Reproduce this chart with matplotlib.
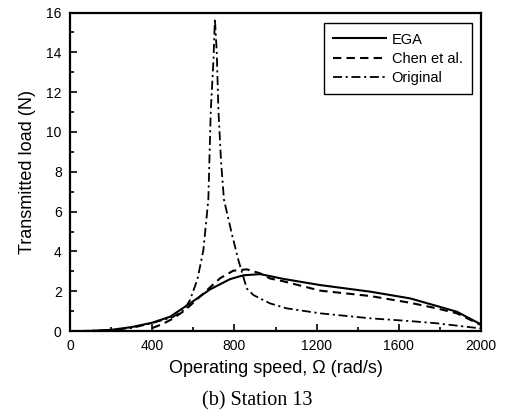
import matplotlib
matplotlib.use("Agg")
import matplotlib.pyplot as plt
from matplotlib.ticker import MultipleLocator

# Data
ega_speed = [50, 100, 200, 300, 400, 487, 584, 681, 779, 843, 925, 973, 1038, 1217, 1460, 1655, 1784, 1882, 2000]
ega_load = [0.0, 0.01, 0.06, 0.2, 0.42, 0.72, 1.39, 2.09, 2.61, 2.8, 2.86, 2.76, 2.62, 2.31, 1.98, 1.64, 1.26, 0.97, 0.33]

chen_speed = [400, 450, 500, 560, 649, 730, 794, 860, 925, 973, 1038, 1217, 1460, 1655, 1784, 1882, 2000]
chen_load = [0.15, 0.35, 0.62, 1.05, 1.89, 2.65, 3.03, 3.1, 2.9, 2.64, 2.5, 2.03, 1.76, 1.42, 1.14, 0.89, 0.3]

orig_speed = [50, 200, 300, 400, 500, 555, 584, 620, 649, 673, 685, 698, 705, 714, 722, 735, 749,
              787, 819, 843, 860, 892, 973, 1054, 1217, 1460, 1655, 1784, 2000]
orig_load = [0.0, 0.05, 0.15, 0.4, 0.7, 1.06, 1.56, 2.6, 4.07, 6.6, 11.1, 13.6, 15.7, 14.0, 11.1, 8.5, 6.6,
             4.9, 3.57, 2.73, 2.14, 1.81, 1.39, 1.14, 0.89, 0.64, 0.50, 0.39, 0.13]

x_ticks = [0, 400, 800, 1200, 1600, 2000]
y_ticks = [0, 2, 4, 6, 8, 10, 12, 14, 16]

plt.rcParams['font.family'] = ['Liberation Sans', 'DejaVu Sans']

fig = plt.figure(figsize=(5.07, 4.18), dpi=100)
ax = fig.add_axes([0.138, 0.208, 0.811, 0.762])

ax.plot(ega_speed, ega_load, color='black', lw=1.5, linestyle='-', label='EGA')
ax.plot(chen_speed, chen_load, color='black', lw=1.5, linestyle=(0, (4, 2.5)), label='Chen et al.')
ax.plot(orig_speed, orig_load, color='black', lw=1.3, linestyle=(0, (5, 2, 1.2, 2)), label='Original')

ax.set_xlim(0, 2000)
ax.set_ylim(0, 16)
ax.set_xticks(x_ticks)
ax.set_yticks(y_ticks)
ax.xaxis.set_minor_locator(MultipleLocator(200))
ax.yaxis.set_minor_locator(MultipleLocator(1))
ax.tick_params(which='both', direction='in', top=False, right=False, labelsize=10, width=1.2)
ax.tick_params(which='major', length=5)
ax.tick_params(which='minor', length=3)
ax.tick_params(axis='y', which='major', pad=6)
ax.tick_params(axis='x', which='major', pad=6)
for s in ax.spines.values():
    s.set_linewidth(1.6)
    s.set_color('black')

ax.set_xlabel('Operating speed, \u03a9 (rad/s)', fontsize=13, labelpad=5)
ax.set_ylabel('Transmitted load (N)', fontsize=13, labelpad=7)

leg = ax.legend(loc='upper right', bbox_to_anchor=(0.978, 0.967), fontsize=10.5,
                frameon=True, fancybox=False, edgecolor='black', framealpha=1,
                handlelength=3.6, labelspacing=0.35, borderpad=0.65, handletextpad=0.4,
                borderaxespad=0.0)
leg.get_frame().set_linewidth(1.0)

fig.text(0.507, 0.040, '(b) Station 13', ha='center', va='center', fontsize=14.5,
         family=['Liberation Serif', 'DejaVu Serif'])

fig.savefig('out.png', dpi=100)
